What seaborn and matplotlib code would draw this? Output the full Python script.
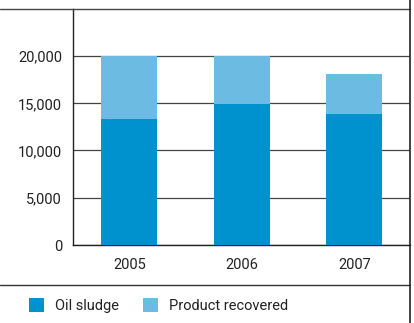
import matplotlib
matplotlib.use("Agg")
import matplotlib.pyplot as plt
from matplotlib.patches import Patch
from matplotlib.lines import Line2D
import seaborn as sns
import pandas as pd

years = ["2005", "2006", "2007"]
oil_sludge = [13300, 14950, 13900]
product_recovered = [6700, 5050, 4200]
y_ticks = [0, 5000, 10000, 15000, 20000]
y_tick_labels = ["0", "5,000", "10,000", "15,000", "20,000"]

dark = "#0091CF"
light = "#6CBBE3"

sns.set_theme(style="white")
plt.rcParams["font.family"] = ["Roboto", "DejaVu Sans"]

df = pd.DataFrame({"year": years, "oil": oil_sludge, "prod": product_recovered})
df["total"] = df["oil"] + df["prod"]

fig = plt.figure(figsize=(4.145, 3.232), dpi=100)
ax = fig.add_axes([73/414, (323-245)/323, (410-73)/414, (245-9)/323])

sns.barplot(data=df, x="year", y="total", color=light, width=0.5, ax=ax,
            saturation=1, linewidth=0, zorder=3)
sns.barplot(data=df, x="year", y="oil", color=dark, width=0.5, ax=ax,
            saturation=1, linewidth=0, zorder=4)

ax.set_ylim(0, 25000)
ax.set_xlim(-0.5, 2.5)
ax.set_yticks(y_ticks)
ax.set_yticklabels(y_tick_labels)
ax.set_xlabel("")
ax.set_ylabel("")
ax.yaxis.grid(True, color="#444444", linewidth=0.9, zorder=0)
ax.set_axisbelow(True)
ax.tick_params(axis="both", length=0, labelsize=10.5, colors="#222222")
ax.tick_params(axis="y", pad=8)
ax.tick_params(axis="x", pad=9)
for s in ["top", "right"]:
    ax.spines[s].set_visible(False)
ax.spines["left"].set_color("#222222")
ax.spines["left"].set_linewidth(1.0)
ax.spines["bottom"].set_color("#222222")
ax.spines["bottom"].set_linewidth(1.0)

# frame lines
fig.add_artist(Line2D([0, 410/414], [1 - 9/323, 1 - 9/323], color="#444444", lw=1.0, transform=fig.transFigure))
fig.add_artist(Line2D([0, 410/414], [1 - 285/323, 1 - 285/323], color="#333333", lw=1.0, transform=fig.transFigure))
fig.add_artist(Line2D([410/414, 410/414], [0, 1], color="#222222", lw=1.2, transform=fig.transFigure))

handles = [Patch(facecolor=dark, edgecolor="none", label="Oil sludge"),
           Patch(facecolor=light, edgecolor="none", label="Product recovered")]
fig.legend(handles=handles, loc="center left", bbox_to_anchor=(29/414, 1 - 305.5/323),
           ncol=2, frameon=False, handlelength=1.05, handleheight=1.05,
           handletextpad=0.75, columnspacing=1.6, fontsize=10.5,
           borderpad=0, borderaxespad=0, labelcolor="#222222")

fig.savefig("out.png", dpi=100)
